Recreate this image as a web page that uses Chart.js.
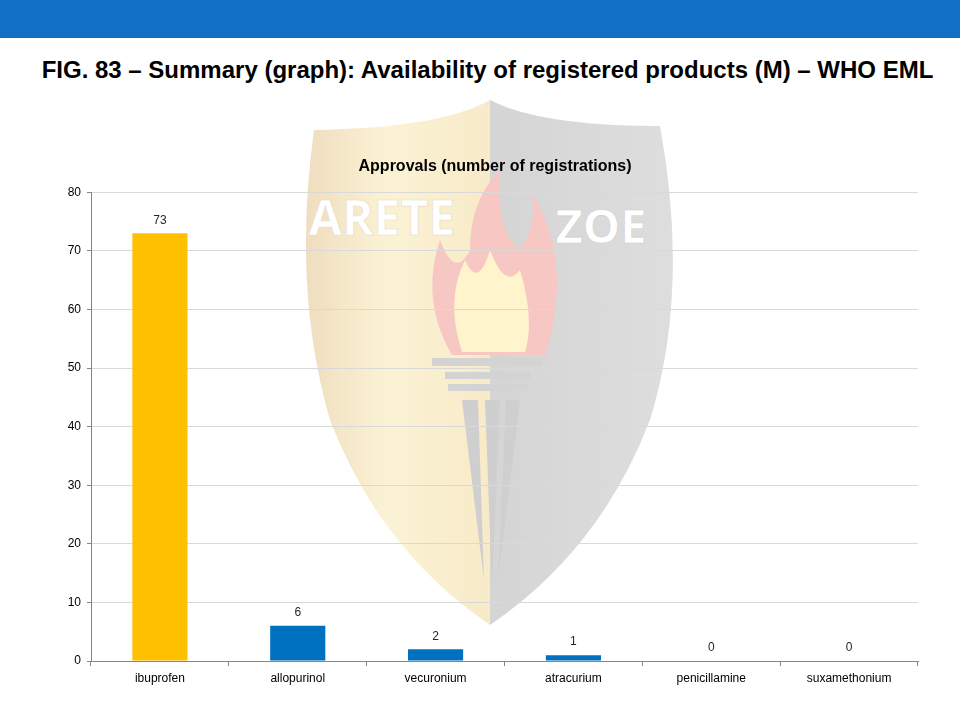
<!DOCTYPE html>
<html>
<head>
<meta charset="utf-8">
<script src="https://cdn.jsdelivr.net/npm/chart.js@4"></script>
<style>
  html, body { margin: 0; padding: 0; background: #fff; }
  body { width: 960px; height: 720px; position: relative; overflow: hidden; font-family: "Liberation Sans", Arial, sans-serif; }
  .band { position: absolute; left: 0; top: 0; width: 960px; height: 38px; background: #1170c4; }
  .titulo { position: absolute; left: 0; top: 56px; width: 975px; text-align: center; font-weight: bold; font-size: 24px; color: #000; }
  .logo { position: absolute; left: 0; top: 0; width: 960px; height: 720px; opacity: 0.28; }
  .cont { position: absolute; left: 10px; top: 150px; width: 940px; height: 545px; }
</style>
</head>
<body>
<div class="band"></div>
<div class="titulo">FIG. 83 – Summary (graph): Availability of registered products (M) – WHO EML</div>

<!-- marca de agua (escudo) -->
<svg class="logo" viewBox="0 0 960 720">
  <defs>
    <linearGradient id="izq" x1="0" y1="0" x2="1" y2="0">
      <stop offset="0" stop-color="#c98a1a"/>
      <stop offset="0.45" stop-color="#f3d46a"/>
      <stop offset="1" stop-color="#e4b63e"/>
    </linearGradient>
    <linearGradient id="der" x1="0" y1="0" x2="1" y2="0">
      <stop offset="0" stop-color="#6a6a6a"/>
      <stop offset="1" stop-color="#8a8a8a"/>
    </linearGradient>
  </defs>
  <path d="M490,100 Q440,128 314,130 Q292,290 330,420 Q380,550 490,625 Z" fill="url(#izq)"/>
  <path d="M490,100 Q540,126 660,126 Q690,290 650,420 Q600,550 490,625 Z" fill="url(#der)"/>
  <path d="M452,355 Q420,300 440,240 Q455,280 470,250 Q470,200 500,170 Q495,230 520,250 Q540,220 530,190 Q575,260 545,355 Z" fill="#e03a2a"/>
  <path d="M462,352 Q445,300 465,260 Q478,290 490,250 Q505,290 520,270 Q535,320 525,352 Z" fill="#ffd84a"/>
  <rect x="432" y="358" width="110" height="8" fill="#666"/>
  <rect x="445" y="372" width="85" height="7" fill="#666"/>
  <rect x="448" y="384" width="80" height="7" fill="#666"/>
  <path d="M462,400 L478,400 L484,580 Z" fill="#555"/>
  <path d="M485,400 L500,400 L492,585 Z" fill="#555"/>
  <path d="M506,400 L520,400 L498,580 Z" fill="#555"/>
</svg>
<svg class="logo" viewBox="0 0 960 720" style="opacity:1">
  <text x="382" y="235" text-anchor="middle" font-family="Open Sans" font-weight="bold" font-size="48" fill="#fff" stroke="#e6dccd" stroke-width="0.6">ARETE</text>
  <text x="601" y="243" text-anchor="middle" font-family="Open Sans" font-weight="bold" font-size="47" fill="#fff" stroke="#cfcfcf" stroke-width="0.6">ZOE</text>
</svg>

<div class="cont"><canvas id="grafica"></canvas></div>

<script>
// datos del gráfico
const medicamentos = ['ibuprofen', 'allopurinol', 'vecuronium', 'atracurium', 'penicillamine', 'suxamethonium']
const registros = [73, 6, 2, 1, 0, 0]
const colores = ['#ffc000', '#0070c0', '#0070c0', '#0070c0', '#0070c0', '#0070c0']
const ticksY = [0, 10, 20, 30, 40, 50, 60, 70, 80]

const fuente = "'Liberation Sans', Arial, sans-serif"

// etiquetas encima de cada barra
const etiquetas = {
    id: 'etiquetas',
    afterDatasetsDraw(chart) {
        const ctx = chart.ctx
        const meta = chart.getDatasetMeta(0)
        ctx.save()
        ctx.font = '12px ' + fuente
        ctx.fillStyle = '#262626'
        ctx.textAlign = 'center'
        ctx.textBaseline = 'bottom'
        meta.data.forEach((barra, i) => {
            ctx.fillText(String(registros[i]), barra.x, barra.y - 7)
        })
        ctx.restore()
    }
}

const grafica = document.getElementById('grafica')
new Chart(grafica, {
    type: 'bar',
    data: {
        labels: medicamentos,
        datasets: [{
            data: registros,
            backgroundColor: colores,
            barPercentage: 0.4,
            categoryPercentage: 1
        }]
    },
    options: {
        responsive: true,
        maintainAspectRatio: false,
        animation: false,
        layout: { padding: { right: 0, left: 30, top: 0, bottom: 0 } },
        plugins: {
            legend: { display: false },
            tooltip: { enabled: false },
            title: {
                display: true,
                text: 'Approvals (number of registrations)',
                color: '#000',
                font: { family: fuente, size: 16, weight: 'bold' },
                padding: { top: 7, bottom: 16 }
            }
        },
        scales: {
            x: {
                grid: { display: true, drawOnChartArea: false, drawTicks: true, offset: true, tickLength: 5, color: '#868686' },
                border: { color: '#868686' },
                ticks: { color: '#000', font: { family: fuente, size: 12 }, padding: 5, maxRotation: 0 },
                afterFit: (s) => { s.height = 34; s.paddingRight = 32; s.paddingLeft = 0 }
            },
            y: {
                min: 0,
                max: 80,
                afterBuildTicks: (s) => { s.ticks = ticksY.map(v => ({ value: v })) },
                grid: { color: '#d9d9d9', tickLength: 4, tickColor: '#868686' },
                border: { color: '#868686' },
                ticks: { color: '#000', font: { family: fuente, size: 12 }, padding: 6 },
                afterFit: (s) => { s.width = 51 }
            }
        }
    },
    plugins: [etiquetas]
})
</script>
</body>
</html>
